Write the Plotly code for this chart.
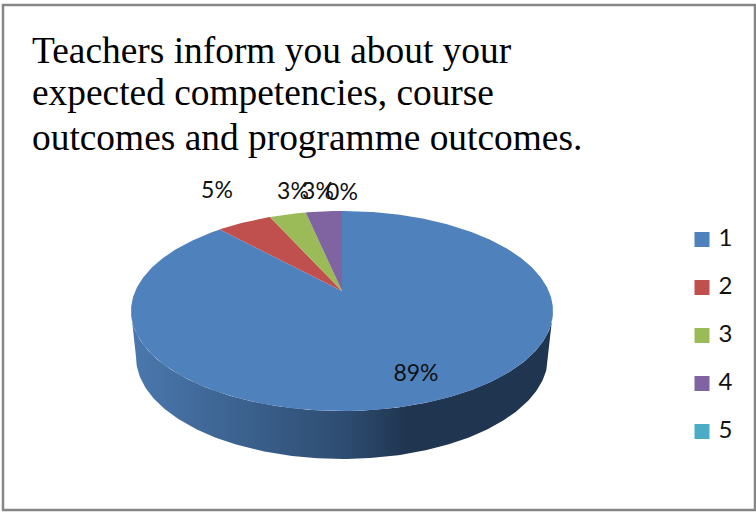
import numpy as np
import plotly.graph_objects as go

# Data
categories = ["1", "2", "3", "4", "5"]
shares = [89.1, 4.6, 3.15, 3.15, 0.0]
pct_labels = ["89%", "5%", "3%", "3%", "0%"]
title_lines = ["Teachers inform you about your",
               "expected competencies, course",
               "outcomes and programme outcomes."]
colors = ["#4F81BD", "#C0504D", "#9BBB59", "#8064A2", "#4BACC6"]

# Geometry of the tilted pie (pixel space of the frame)
W, H = 756, 512
cx, cy, rx, ry = 342, 311, 211, 100
apex_y = 291
low_cy, low_rx, low_ry = 357, 206, 102
squash = 0.87
label_xy = [(416, 375), (217, 192), (293, 193), (318, 193), (342, 194)]
legend_x, legend_y0, legend_step = 702, 239.5, 48

def rim(theta):
    """Rim point for a clockwise angle from 12 o'clock (radians), with perspective."""
    phi = np.arctan2(squash * np.sin(theta), np.cos(theta))
    return cx + rx * np.sin(phi), cy - ry * np.cos(phi)

fig = go.Figure()

# Side wall with gradient
t = np.linspace(0, np.pi, 200)
top_x = cx - rx * np.cos(t)
top_y = cy + ry * np.sin(t)
low_x = cx + low_rx * np.cos(t)
low_y = low_cy + low_ry * np.sin(t)
fig.add_trace(go.Scatter(
    x=np.concatenate([top_x, low_x]), y=np.concatenate([top_y, low_y]),
    mode="lines", line=dict(width=0), fill="toself",
    fillgradient=dict(type="horizontal", start=131, stop=553,
                      colorscale=[[0, "#4A78AE"], [0.2, "#3F6796"], [0.5, "#2E4D72"],
                                  [0.66, "#1F3550"], [1, "#1F3550"]]),
    hoverinfo="skip", showlegend=False))

# Top face: slices run clockwise from 12 o'clock
start_frac = 0.0
total = sum(shares)
for i, v in enumerate(shares):
    if v <= 0:
        continue
    a0 = 2 * np.pi * start_frac
    a1 = 2 * np.pi * (start_frac + v / total)
    th = np.linspace(a0, a1, max(4, int(v * 6)))
    xs, ys = rim(th)
    fig.add_trace(go.Scatter(
        x=np.concatenate([[cx], xs, [cx]]), y=np.concatenate([[apex_y], ys, [apex_y]]),
        mode="lines", line=dict(width=0), fill="toself", fillcolor=colors[i],
        hoverinfo="skip", showlegend=False))
    start_frac += v / total

# Data labels
for lab, (lx, ly) in zip(pct_labels, label_xy):
    fig.add_trace(go.Scatter(x=[lx], y=[ly], mode="text", text=[lab],
                             textfont=dict(family="Lato", size=23, color="#111111"),
                             hoverinfo="skip", showlegend=False))

# Legend keys
for i, c in enumerate(categories):
    fig.add_trace(go.Scatter(x=[legend_x], y=[legend_y0 + i * legend_step], mode="markers+text",
                             marker=dict(symbol="square", size=15, color=colors[i]),
                             text=[" " + c], textposition="middle right",
                             textfont=dict(family="Lato", size=24, color="#111111"),
                             hoverinfo="skip", showlegend=False))

annotations = [dict(x=30, y=y, xref="x", yref="y", text=s, showarrow=False,
                    xanchor="left", yanchor="middle",
                    font=dict(family="Liberation Serif", size=37.4, color="#000000"))
               for s, y in zip(title_lines, [50, 92, 137])]

fig.update_layout(
    width=W, height=H, margin=dict(l=0, r=0, t=0, b=0),
    paper_bgcolor="white", plot_bgcolor="white", showlegend=False,
    xaxis=dict(range=[0, W], visible=False, fixedrange=True),
    yaxis=dict(range=[H, 0], visible=False, fixedrange=True),
    annotations=annotations,
    shapes=[dict(type="rect", x0=3, y0=5, x1=755, y1=510,
                 line=dict(color="#868686", width=2.5), layer="below")],
)
fig.write_html("out.html", config=dict(displayModeBar=False),
               post_script="document.body.style.margin='0';document.body.style.overflow='hidden';")
